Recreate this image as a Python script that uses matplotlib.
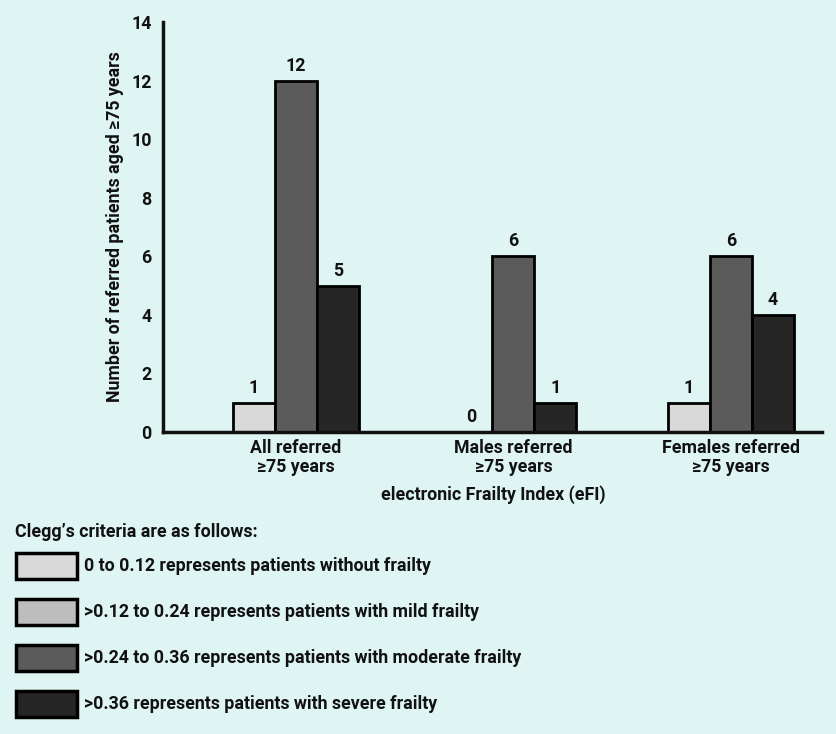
import matplotlib
matplotlib.use("Agg")
import matplotlib.pyplot as plt
from matplotlib.patches import Rectangle
import numpy as np

plt.rcParams['font.family'] = ['Roboto', 'DejaVu Sans']
plt.rcParams['font.weight'] = 'bold'

categories = ["All referred\n\u226575 years", "Males referred\n\u226575 years", "Females referred\n\u226575 years"]
no_frailty = [1, 0, 1]
moderate = [12, 6, 6]
severe = [5, 1, 4]
mild = [0, 0, 0]  # legend only, no bars shown
legend_labels = [
    "0 to 0.12 represents patients without frailty",
    ">0.12 to 0.24 represents patients with mild frailty",
    ">0.24 to 0.36 represents patients with moderate frailty",
    ">0.36 represents patients with severe frailty",
]
colors = {"none": "#d9d9d9", "mild": "#bdbdbd", "mod": "#5b5b5b", "sev": "#262626"}
bg = "#dff5f3"
fs = 12.8

fig = plt.figure(figsize=(8.37, 7.34), dpi=100, facecolor=bg)
ax = fig.add_axes([0.1947, 0.4114, 0.982 - 0.1947, 0.970 - 0.4114])
ax.set_facecolor(bg)

x = np.arange(len(categories))
w = 0.193
series = [(no_frailty, colors["none"], -w), (moderate, colors["mod"], 0), (severe, colors["sev"], w)]
for vals, c, off in series:
    bars = ax.bar(x + off, vals, width=w, color=c, edgecolor="black", linewidth=2.0, zorder=2)
    for b, v in zip(bars, vals):
        ax.text(b.get_x() + b.get_width() / 2, v + 0.2, str(v), ha="center", va="bottom",
                fontsize=fs, fontweight="bold", color="#111111")

ax.set_xlim(-0.611, 2.418)
ax.set_ylim(0, 14)
ax.set_yticks(range(0, 15, 2))
ax.set_xticks(x)
ax.set_xticklabels(categories, fontsize=fs, fontweight="bold", linespacing=1.1)
ax.tick_params(axis="both", length=0, colors="#111111", labelsize=fs)
ax.tick_params(axis="y", pad=8)
ax.tick_params(axis="x", pad=5)
for s in ["top", "right"]:
    ax.spines[s].set_visible(False)
for s in ["left", "bottom"]:
    ax.spines[s].set_linewidth(2.5)
    ax.spines[s].set_color("#111111")
ax.set_ylabel("Number of referred patients aged \u226575 years", fontsize=fs, fontweight="bold",
              labelpad=5, color="#111111")
fig.text(493 / 837, 1 - 495 / 734, "electronic Frailty Index (eFI)", ha="center", va="center",
         fontsize=fs, fontweight="bold", color="#111111")

# Legend drawn manually
fig.text(15 / 837, 1 - 532 / 734, "Clegg\u2019s criteria are as follows:", ha="left", va="center",
         fontsize=fs, fontweight="bold", color="#111111")
leg_colors = [colors["none"], colors["mild"], colors["mod"], colors["sev"]]
for i, (lab, c) in enumerate(zip(legend_labels, leg_colors)):
    yc = 566 + i * 46
    fig.add_artist(Rectangle((16 / 837, 1 - (yc + 13) / 734), 61 / 837, 26 / 734,
                             transform=fig.transFigure, facecolor=c, edgecolor="black", linewidth=2.5))
    fig.text(84 / 837, 1 - yc / 734, lab, ha="left", va="center", fontsize=fs,
             fontweight="bold", color="#111111")

fig.savefig("out.png", dpi=100, facecolor=bg)
